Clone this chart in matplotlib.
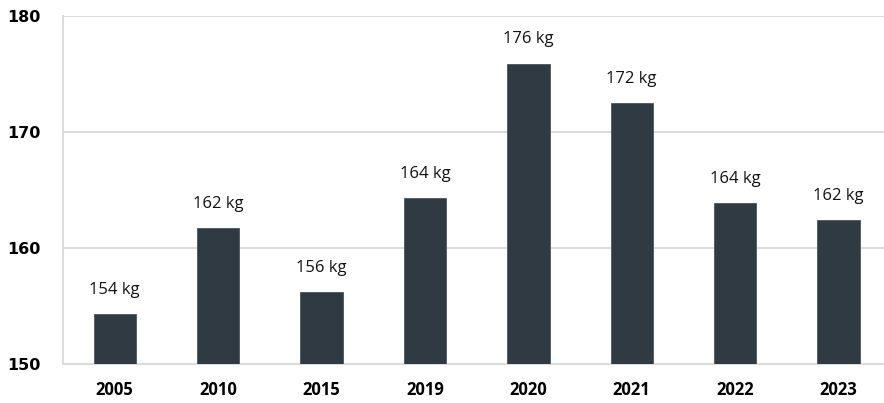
import matplotlib.pyplot as plt

years = ["2005", "2010", "2015", "2019", "2020", "2021", "2022", "2023"]
values = [154.3, 161.7, 156.2, 164.3, 175.9, 172.5, 163.9, 162.4]
labels = ["154 kg", "162 kg", "156 kg", "164 kg", "176 kg", "172 kg", "164 kg", "162 kg"]
y_ticks = [150, 160, 170, 180]

BAR = "#2f3a43"
GRID = "#d9d9d9"

fig = plt.figure(figsize=(8.84, 4.03), dpi=100)
ax = fig.add_axes([0.0713, 0.0968, 0.9287, 0.8635])

x = range(len(years))
ax.bar(x, [v - 150 for v in values], bottom=150, width=0.41,
       color=BAR, edgecolor="#4b555d", linewidth=0.6, zorder=3)

# value labels sit a fixed gap above each bar
for i, (v, lab) in enumerate(zip(values, labels)):
    ax.text(i, v + 1.4, lab, ha="center", va="bottom", fontsize=12,
            family="Open Sans", fontweight="medium", color="#111111")

ax.set_ylim(150, 180)
ax.set_xlim(-0.5, 7.44)
ax.set_yticks(y_ticks)
ax.set_yticklabels([str(t) for t in y_ticks], fontsize=11.5, fontweight="bold",
                   family="DejaVu Sans")
ax.set_xticks(list(x))
ax.set_xticklabels(years, fontsize=12, fontweight="bold", family="Open Sans")
ax.tick_params(axis="both", length=0)
ax.tick_params(axis="y", pad=16)
ax.tick_params(axis="x", pad=12)

ax.grid(axis="y", color=GRID, linewidth=1.3, zorder=0)
for side in ["top", "right"]:
    ax.spines[side].set_visible(False)
ax.spines["left"].set_color(GRID)
ax.spines["left"].set_linewidth(1.3)
ax.spines["bottom"].set_color(GRID)
ax.spines["bottom"].set_linewidth(1.3)

fig.savefig("out.png", dpi=100)
